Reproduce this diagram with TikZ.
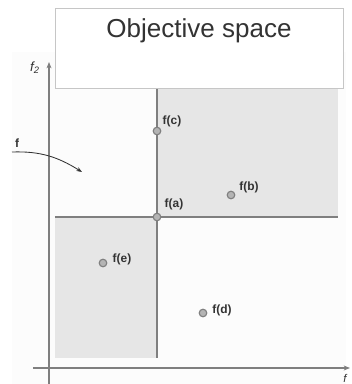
\documentclass[tikz,border=0pt]{standalone}
\usepackage{fontspec}
\setmainfont{Liberation Sans}
\usetikzlibrary{arrows.meta}
\definecolor{linegray}{HTML}{7F7F7F}
\definecolor{shadegray}{HTML}{E6E6E6}
\definecolor{dotgray}{HTML}{B4B4B4}
\definecolor{textgray}{HTML}{333333}
\tikzset{
  pt/.style={circle, draw=linegray, fill=dotgray, line width=0.8pt, inner sep=0pt, minimum size=0.19cm},
  lbl/.style={font=\fontsize{8.5}{10}\selectfont\bfseries, text=textgray, inner sep=0pt},
  axis/.style={line width=0.9pt, draw=linegray, -{Stealth[length=4.5pt,width=3.5pt,fill=textgray]}},
  border/.style={line width=1.1pt, draw=linegray}
}

\begin{document}
\begin{tikzpicture}[x=0.25cm, y=0.25cm]
\useasboundingbox (0,0) rectangle (35.2,38.4);
% faint page background
\fill[gray!2] (1.2,0) rectangle (34.6,33.2);

% shaded regions
\fill[shadegray] (15.7,16.7) rectangle (33.8,29.6);
\fill[shadegray] (5.5,2.6) rectangle (15.7,16.7);

% axes
\coordinate (yfoot) at (4.9,0);
\coordinate (ytip) at (4.9,32.2);
\coordinate (xfoot) at (3.3,1.6);
\coordinate (xtip) at (35.0,1.6);
\draw[axis] (yfoot) -- (ytip);
\draw[axis] (xfoot) -- (xtip);
\node[font=\fontsize{9.5}{10}\selectfont\itshape, text=textgray] (f2lab) at (3.5,31.6) {f\textsubscript{2}};
\node[font=\fontsize{8}{9}\selectfont\itshape, text=textgray, inner sep=0pt] (f1lab) at (34.5,0.6) {f};

% dominance lines
\coordinate (vtop) at (15.7,29.6);
\coordinate (vbot) at (15.7,2.6);
\coordinate (hleft) at (5.5,16.7);
\coordinate (hright) at (33.8,16.7);
\draw[border] (vtop) -- (vbot);
\draw[border] (hleft) -- (hright);

% mapping arrow
\coordinate (fstart) at (1.2,23.2);
\coordinate (fend) at (8.2,21.2);
\draw[line width=0.6pt, textgray, -{Stealth[length=4pt,width=3pt]}] (fstart) to[out=2,in=148] (fend);
\node[lbl] (flab) at (1.7,24.1) {f};

% objective vectors
\node[pt] (fa) at (15.7,16.7) {};
\node[pt] (fb) at (23.1,18.9) {};
\node[pt] (fc) at (15.7,25.3) {};
\node[pt] (fd) at (20.3,7.1) {};
\node[pt] (fe) at (10.3,12.1) {};

\node[lbl] (falab) at (17.4,18.0) {f(a)};
\node[lbl] (fblab) at (24.9,19.7) {f(b)};
\node[lbl] (fclab) at (17.2,26.3) {f(c)};
\node[lbl] (fdlab) at (22.2,7.4) {f(d)};
\node[lbl] (felab) at (12.2,12.5) {f(e)};

% title box
\draw[draw=gray!45, fill=white, line width=0.6pt] (5.5,37.6) rectangle (34.3,29.6);
\node[anchor=base, font=\fontsize{18.5}{22}\selectfont, text=textgray] (title) at (19.9,34.7) {Objective space};
\end{tikzpicture}
\end{document}
